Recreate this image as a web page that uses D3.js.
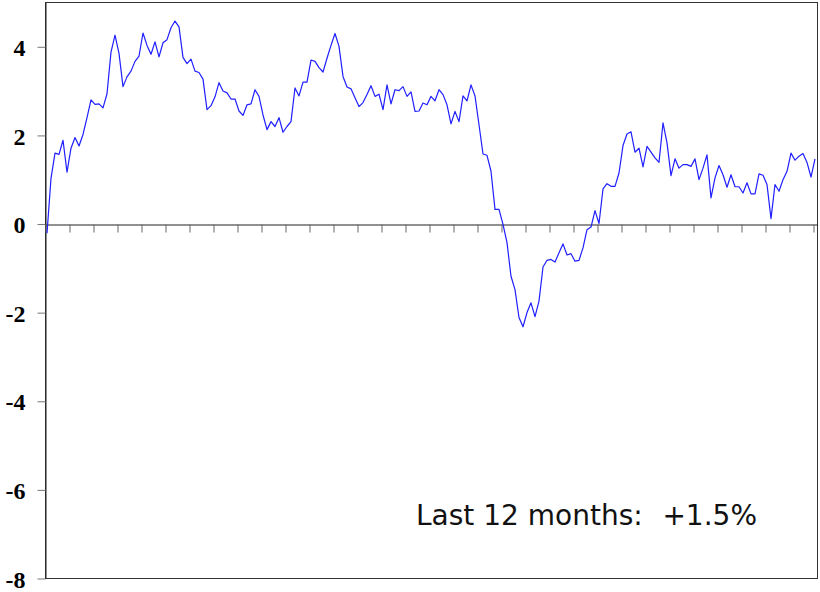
<!DOCTYPE html>
<html>
<head>
<meta charset="utf-8">
<script src="https://cdn.jsdelivr.net/npm/d3@7.9.0/dist/d3.min.js"></script>
<style>
  html, body { margin: 0; padding: 0; background: #fff; }
  svg { display: block; }
  .y-axis text { font-family: "Liberation Serif", "Times New Roman", serif; font-weight: bold; font-size: 24px; fill: #000; }
  .note { font-family: "DejaVu Sans", Verdana, sans-serif; font-size: 28px; fill: #111; }
</style>
</head>
<body>
<svg id="chart" width="820" height="592"></svg>
<script>
// monthly values (193 months)
const values = [
  -0.22, 1.02, 1.59, 1.56, 1.88, 1.16, 1.70, 1.94, 1.75, 2.01, 2.39, 2.79, 2.69, 2.70, 2.61, 2.93,
  3.87, 4.25, 3.84, 3.09, 3.31, 3.44, 3.66, 3.78, 4.30, 4.02, 3.82, 4.10, 3.76, 4.08, 4.15, 4.42,
  4.57, 4.44, 3.75, 3.61, 3.71, 3.44, 3.41, 3.26, 2.57, 2.66, 2.86, 3.18, 2.99, 2.95, 2.81, 2.81,
  2.54, 2.44, 2.68, 2.70, 3.02, 2.87, 2.45, 2.12, 2.30, 2.19, 2.39, 2.06, 2.19, 2.30, 3.06, 2.88,
  3.19, 3.19, 3.69, 3.66, 3.52, 3.42, 3.73, 4.02, 4.29, 4.00, 3.32, 3.08, 3.04, 2.84, 2.64, 2.73,
  2.91, 3.11, 2.87, 2.92, 2.57, 3.13, 2.70, 3.02, 3.00, 3.09, 2.87, 2.97, 2.53, 2.54, 2.72, 2.68,
  2.87, 2.77, 3.02, 2.91, 2.68, 2.25, 2.53, 2.30, 2.88, 2.77, 3.13, 2.88, 2.23, 1.57, 1.54, 1.18,
  0.32, 0.32, -0.02, -0.43, -1.19, -1.49, -2.12, -2.33, -2.01, -1.79, -2.10, -1.75, -0.98, -0.83, -0.81, -0.87,
  -0.66, -0.46, -0.71, -0.68, -0.85, -0.83, -0.55, -0.14, -0.08, 0.29, 0.00, 0.78, 0.90, 0.84, 0.84, 1.14,
  1.76, 2.02, 2.07, 1.61, 1.70, 1.28, 1.74, 1.61, 1.48, 1.38, 2.27, 1.82, 1.08, 1.46, 1.25, 1.33,
  1.33, 1.29, 1.46, 0.99, 1.25, 1.55, 0.58, 1.03, 1.31, 1.10, 0.82, 1.10, 0.83, 0.83, 0.69, 0.92,
  0.67, 0.67, 1.12, 1.09, 0.88, 0.11, 0.88, 0.73, 0.99, 1.18, 1.59, 1.43, 1.52, 1.58, 1.38, 1.05,
  1.46
];

const yTickValues = [-8, -6, -4, -2, 0, 2, 4];
const monthsPerTick = 6;
const noteLabel = 'Last 12 months:';
const noteValue = '+1.5%';

const plotLeft = 45, plotRight = 817, plotTop = 2, plotBottom = 578;

const svg = d3.select('#chart');

const x = d3.scaleLinear()
  .domain([-0.5, values.length - 0.5])
  .range([plotLeft, plotRight]);

const y = d3.scaleLinear()
  .domain([-8, 5])
  .range([plotBottom, plotTop]);

// frame
svg.append('rect')
  .attr('x', plotLeft + 0.5)
  .attr('y', plotTop + 0.5)
  .attr('width', plotRight - plotLeft)
  .attr('height', plotBottom - plotTop)
  .attr('fill', 'none')
  .attr('stroke', '#333')
  .attr('stroke-width', 1);

// y axis
const yAxis = svg.append('g')
  .attr('class', 'y-axis')
  .attr('transform', `translate(${plotLeft + 0.5},0.5)`)
  .call(d3.axisLeft(y)
    .tickValues(yTickValues)
    .tickSize(8)
    .tickSizeOuter(0)
    .tickPadding(12)
    .tickFormat((d) => String(d)));
yAxis.select('.domain').attr('stroke', '#222');
yAxis.selectAll('.tick line').attr('stroke', '#777');
yAxis.selectAll('.tick text').attr('dy', '0.36em');

// zero line with month ticks
const xTicks = d3.range(0, Math.floor(values.length / monthsPerTick) + 1)
  .map((k) => -0.5 + k * monthsPerTick);

const xAxis = svg.append('g')
  .attr('transform', `translate(0.5,${Math.round(y(0)) + 0.5})`)
  .call(d3.axisBottom(x)
    .tickValues(xTicks)
    .tickSize(8)
    .tickSizeOuter(0)
    .tickFormat(''));
xAxis.select('.domain').attr('stroke', '#222');
xAxis.selectAll('.tick line').attr('stroke', '#666');

// series
const line = d3.line()
  .x((d, i) => x(i))
  .y((d) => y(d));

svg.append('path')
  .datum(values)
  .attr('fill', 'none')
  .attr('stroke', '#1f1fff')
  .attr('stroke-width', 1.2)
  .attr('stroke-linejoin', 'round')
  .attr('d', line);

// annotation
svg.append('text')
  .attr('class', 'note')
  .attr('x', 416)
  .attr('y', 525)
  .text(noteLabel);

svg.append('text')
  .attr('class', 'note')
  .attr('x', 757)
  .attr('y', 525)
  .attr('text-anchor', 'end')
  .text(noteValue);
</script>
</body>
</html>
